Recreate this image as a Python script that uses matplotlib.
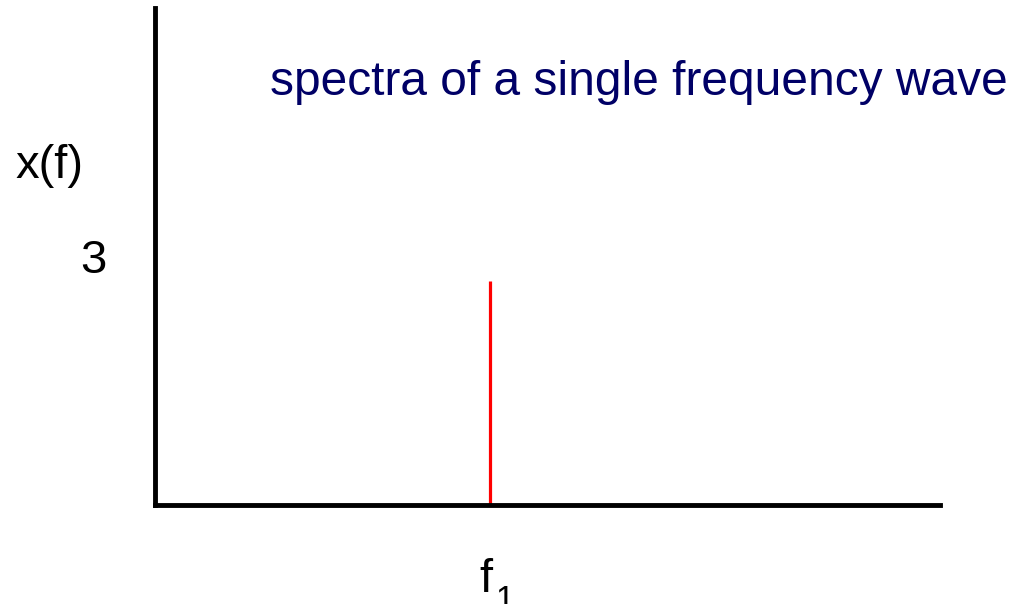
import matplotlib.pyplot as plt

# Spectrum data: one frequency component
freqs = [4.27]
amplitudes = [3]
freq_names = ['f']
freq_subs = ['1']
amp_label = '3'

plt.rcParams['font.family'] = ['Liberation Sans', 'DejaVu Sans']

W, H = 1013, 604
fig = plt.figure(figsize=(W / 100, H / 100), dpi=100)
# axes box: left spine at x=155, bottom at y=505, top at y=8, right end at x=940
ax = fig.add_axes([155 / W, (H - 505) / H, (940 - 155) / W, (505 - 8) / H])

ax.vlines(freqs, 0, amplitudes, color='#ff0000', linewidth=2.3)

ax.set_xlim(0, 10)
ax.set_ylim(0, 6.66)

for side in ['top', 'right']:
    ax.spines[side].set_visible(False)
for side in ['left', 'bottom']:
    ax.spines[side].set_linewidth(3.5)
    ax.spines[side].set_color('black')

ax.set_xticks([])
ax.set_yticks([])

# frequency label under the line (offsets in points, 1px = 0.72pt)
px = 0.72
for f, name, sub in zip(freqs, freq_names, freq_subs):
    ax.annotate(name, xy=(f, 0), xytext=(-4.5 * px, -87 * px), textcoords='offset points',
                ha='center', va='baseline', fontsize=34, annotation_clip=False)
    ax.annotate(sub, xy=(f, 0), xytext=(5 * px, -104 * px), textcoords='offset points',
                ha='left', va='baseline', fontsize=24, annotation_clip=False)
ax.annotate(amp_label, xy=(0, amplitudes[0]), xytext=(-75 * px, 8 * px),
            textcoords='offset points', ha='left', va='baseline', fontsize=34,
            annotation_clip=False)

fig.text(15 / W, 1 - 166 / H, 'x(f)', ha='left', va='center', fontsize=34)
fig.text(270 / W, 1 - 95 / H, 'spectra of a single frequency wave',
         ha='left', va='baseline', fontsize=34.5, color='#000066')

fig.savefig('out.png', dpi=100)
